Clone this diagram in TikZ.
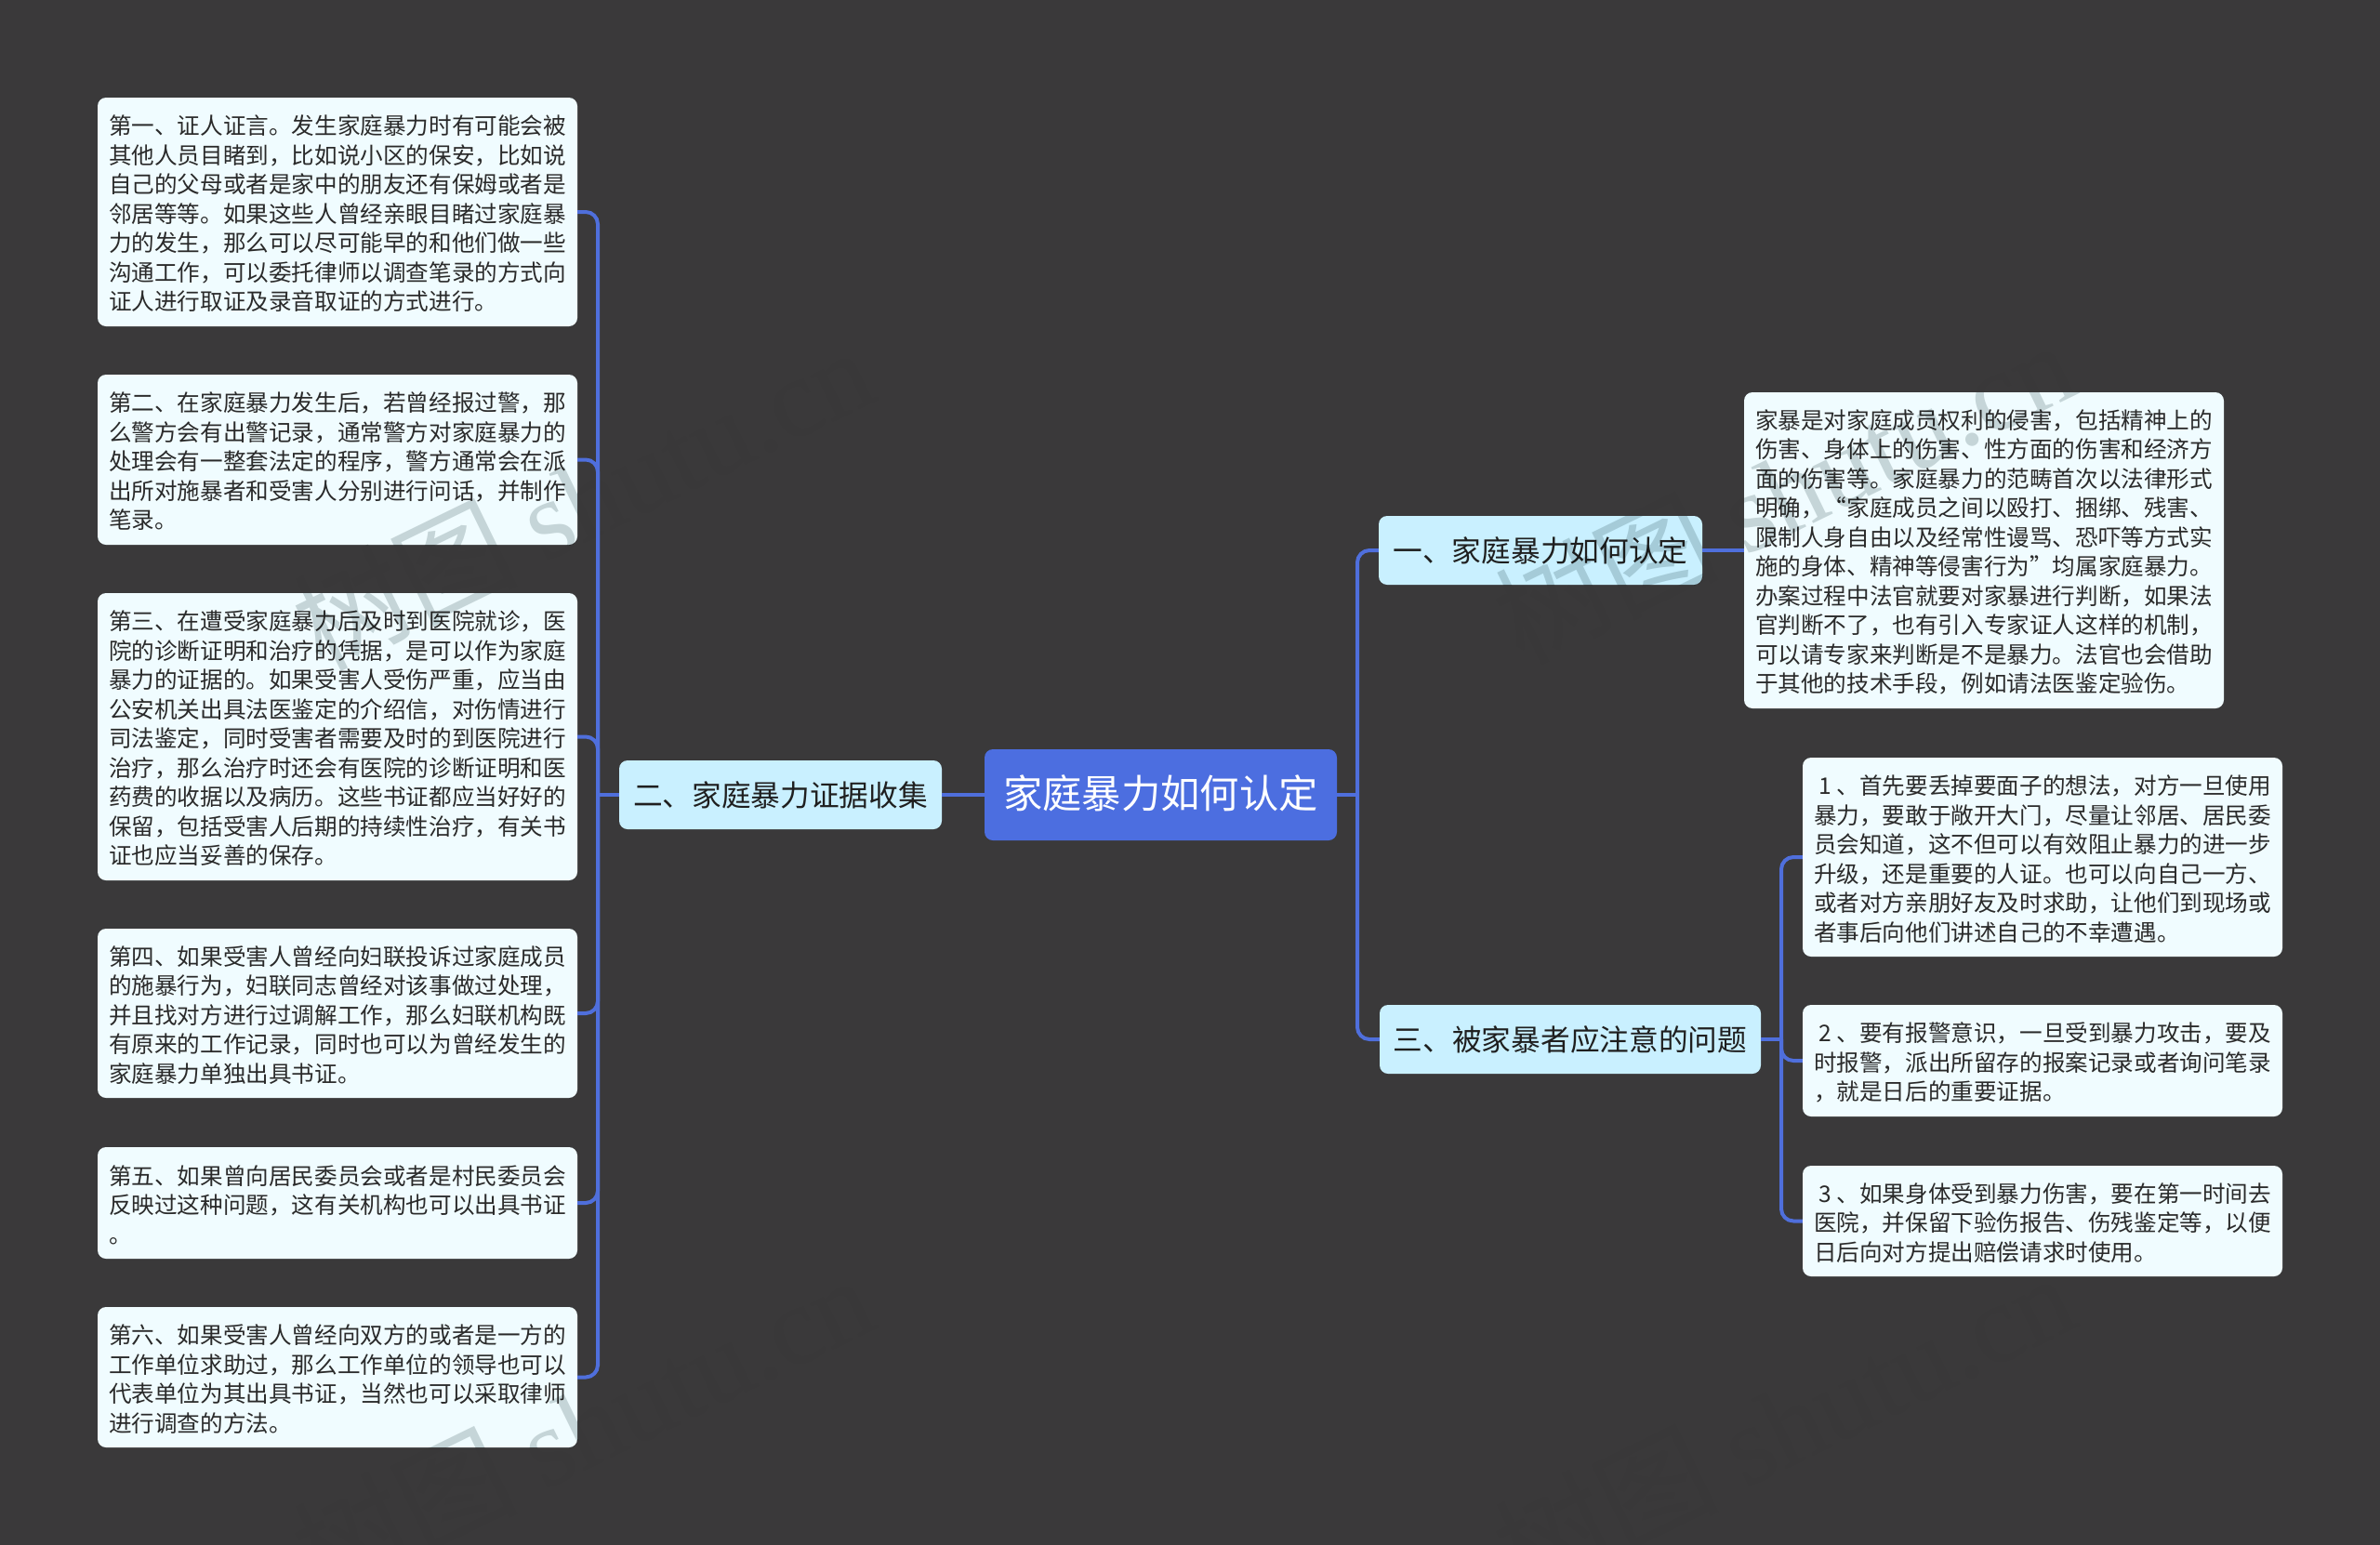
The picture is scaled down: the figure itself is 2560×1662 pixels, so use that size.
\documentclass[tikz,border=0pt]{standalone}
\usepackage{fontspec}
\setmainfont{Noto Sans CJK SC}
\newfontfamily\wmlatin{Liberation Serif}
\definecolor{bgc}{HTML}{3A393A}
\definecolor{bgmark}{HTML}{393839}
\definecolor{linec}{HTML}{4F6FDC}
\definecolor{rootc}{HTML}{4C6EE0}
\definecolor{midc}{HTML}{C9F0FF}
\definecolor{leafc}{HTML}{F0FCFF}
\definecolor{txtc}{HTML}{2A2A2A}
\definecolor{markc}{HTML}{D2D8D8}
\tikzset{
  x=1pt,y=-1pt,
  box/.style={rectangle,rounded corners=9pt,inner sep=0pt,anchor=center},
  rootbox/.style={box,fill=rootc,text=white,font=\fontsize{42.3}{50}\selectfont,execute at begin node={\rule[-6pt]{0pt}{0pt}}},
  midbox/.style={box,fill=midc,text=black!88,font=\fontsize{31.7}{38}\selectfont},
  leafbox/.style={box,fill=leafc,text=txtc,align=left,font=\fontsize{24.6}{31.5}\selectfont},
  conn/.style={draw=linec,line width=4pt,rounded corners=13pt},
  wmark/.style={anchor=west,rotate=26,font=\fontsize{120}{130}\selectfont,inner sep=0pt},
}
\newcommand{\lstrut}{\rule{0pt}{25pt}}
\newcommand{\oquote}{\makebox[24.6pt][r]{“}}
\newcommand{\cquote}{\makebox[24.6pt][l]{”}}
\newcommand{\wmtext}{树图 {\wmlatin shutu.cn}}
\newcommand{\wmall}[1]{%
  \node[wmark,text=#1] (wa#1) at (325,682) {\wmtext};
  \node[wmark,text=#1] (wb#1) at (325,1680) {\wmtext};
  \node[wmark,text=#1] (wc#1) at (1617,675) {\wmtext};
  \node[wmark,text=#1] (wd#1) at (1617,1678) {\wmtext};
}
\newcommand{\boxclip}[1]{[rounded corners=9pt] (#1.north west) rectangle (#1.south east)}
\begin{document}
\begin{tikzpicture}
\useasboundingbox (0,0) rectangle (2560,1662);
\fill[bgc] (0,0) rectangle (2560,1662);
\begin{scope}
\clip (0,0) rectangle (2560,1662);
\wmall{bgmark}
\end{scope}
\coordinate (sl) at (643,855);
\coordinate (sr) at (1460,855);
\coordinate (st) at (1916,1118);
\node[minimum width=379pt,minimum height=98pt,rootbox] (root) at (1248.5,855) {家庭暴力如何认定};
\node[minimum width=347pt,minimum height=74pt,midbox] (m2) at (839.5,855) {二、家庭暴力证据收集};
\node[minimum width=348pt,minimum height=74pt,midbox] (m1) at (1657,592) {一、家庭暴力如何认定};
\node[minimum width=410pt,minimum height=74pt,midbox] (m3) at (1689,1118) {三、被家暴者应注意的问题};
\node[leafbox,minimum width=516pt,minimum height=246pt] (b1) at (363,228) {\lstrut 第一、证人证言。发生家庭暴力时有可能会被\\其他人员目睹到，比如说小区的保安，比如说\\自己的父母或者是家中的朋友还有保姆或者是\\邻居等等。如果这些人曾经亲眼目睹过家庭暴\\力的发生，那么可以尽可能早的和他们做一些\\沟通工作，可以委托律师以调查笔录的方式向\\证人进行取证及录音取证的方式进行。};
\node[leafbox,minimum width=516pt,minimum height=183pt] (b2) at (363,494.5) {\lstrut 第二、在家庭暴力发生后，若曾经报过警，那\\么警方会有出警记录，通常警方对家庭暴力的\\处理会有一整套法定的程序，警方通常会在派\\出所对施暴者和受害人分别进行问话，并制作\\笔录。};
\node[leafbox,minimum width=516pt,minimum height=309pt] (b3) at (363,792.5) {\lstrut 第三、在遭受家庭暴力后及时到医院就诊，医\\院的诊断证明和治疗的凭据，是可以作为家庭\\暴力的证据的。如果受害人受伤严重，应当由\\公安机关出具法医鉴定的介绍信，对伤情进行\\司法鉴定，同时受害者需要及时的到医院进行\\治疗，那么治疗时还会有医院的诊断证明和医\\药费的收据以及病历。这些书证都应当好好的\\保留，包括受害人后期的持续性治疗，有关书\\证也应当妥善的保存。};
\node[leafbox,minimum width=516pt,minimum height=182pt] (b4) at (363,1090) {\lstrut 第四、如果受害人曾经向妇联投诉过家庭成员\\的施暴行为，妇联同志曾经对该事做过处理，\\并且找对方进行过调解工作，那么妇联机构既\\有原来的工作记录，同时也可以为曾经发生的\\家庭暴力单独出具书证。};
\node[leafbox,minimum width=516pt,minimum height=120pt] (b5) at (363,1294) {\lstrut 第五、如果曾向居民委员会或者是村民委员会\\反映过这种问题，这有关机构也可以出具书证\\。};
\node[leafbox,minimum width=516pt,minimum height=151pt] (b6) at (363,1481.5) {\lstrut 第六、如果受害人曾经向双方的或者是一方的\\工作单位求助过，那么工作单位的领导也可以\\代表单位为其出具书证，当然也可以采取律师\\进行调查的方法。};
\node[leafbox,minimum width=516pt,minimum height=340pt] (d1) at (2134,592) {\lstrut 家暴是对家庭成员权利的侵害，包括精神上的\\伤害、身体上的伤害、性方面的伤害和经济方\\面的伤害等。家庭暴力的范畴首次以法律形式\\明确，\oquote 家庭成员之间以殴打、捆绑、残害、\\限制人身自由以及经常性谩骂、恐吓等方式实\\施的身体、精神等侵害行为\cquote 均属家庭暴力。\\办案过程中法官就要对家暴进行判断，如果法\\官判断不了，也有引入专家证人这样的机制，\\可以请专家来判断是不是暴力。法官也会借助\\于其他的技术手段，例如请法医鉴定验伤。};
\node[leafbox,minimum width=516pt,minimum height=214pt] (r1) at (2197,922) {\lstrut\makebox[24.6pt][l]{\hspace{5pt}1}、首先要丢掉要面子的想法，对方一旦使用\\暴力，要敢于敞开大门，尽量让邻居、居民委\\员会知道，这不但可以有效阻止暴力的进一步\\升级，还是重要的人证。也可以向自己一方、\\或者对方亲朋好友及时求助，让他们到现场或\\者事后向他们讲述自己的不幸遭遇。};
\node[leafbox,minimum width=516pt,minimum height=120pt] (r2) at (2197,1141) {\lstrut\makebox[24.6pt][l]{\hspace{5pt}2}、要有报警意识，一旦受到暴力攻击，要及\\时报警，派出所留存的报案记录或者询问笔录\\，就是日后的重要证据。};
\node[leafbox,minimum width=516pt,minimum height=119pt] (r3) at (2197,1313.5) {\lstrut\makebox[24.6pt][l]{\hspace{5pt}3}、如果身体受到暴力伤害，要在第一时间去\\医院，并保留下验伤报告、伤残鉴定等，以便\\日后向对方提出赔偿请求时使用。};
\begin{scope}[blend mode=multiply]
\clip \boxclip{b1} \boxclip{b2} \boxclip{b3} \boxclip{b4} \boxclip{b5} \boxclip{b6} \boxclip{d1} \boxclip{r1} \boxclip{r2} \boxclip{r3} \boxclip{m1} \boxclip{m2} \boxclip{m3};
\wmall{markc}
\end{scope}
\foreach \b in {b1,b2,b3,b4,b5,b6}{\draw[conn] (\b.east) -| (sl);}
\draw[conn] (m2.west) -- (sl);
\draw[conn] (root.west) -- (m2.east);
\draw[conn] (root.east) -- (sr);
\draw[conn] (m1.west) -| (sr);
\draw[conn] (m3.west) -| (sr);
\draw[conn] (m1.east) -- (d1.west);
\draw[conn] (m3.east) -- (st);
\foreach \b in {r1,r2,r3}{\draw[conn] (\b.west) -| (st);}
\end{tikzpicture}
\end{document}
